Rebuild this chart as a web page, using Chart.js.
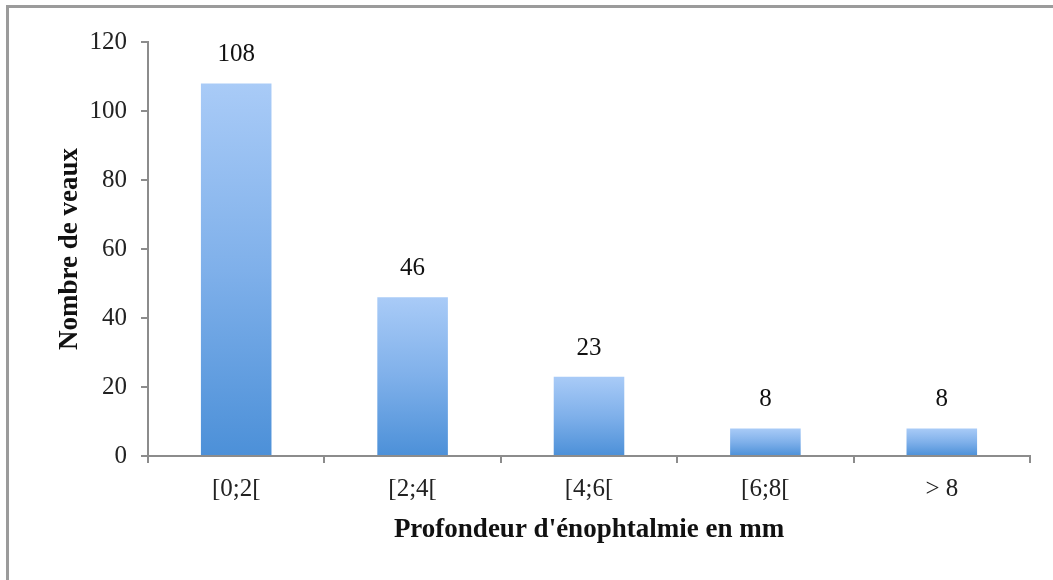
<!DOCTYPE html>
<html>
<head>
<meta charset="utf-8">
<script src="https://cdn.jsdelivr.net/npm/chart.js@4/dist/chart.umd.min.js"></script>
<style>
  html, body { margin: 0; padding: 0; background: #fff; }
  #wrap { position: relative; width: 1053px; height: 580px; }
  #frame { position: absolute; left: 6px; top: 5px; right: 0; bottom: 0;
           border-top: 3px solid #9b9b9b; border-left: 3px solid #9b9b9b; pointer-events: none; }
  canvas { position: absolute; left: 0; top: 0; }
</style>
</head>
<body>
<div id="wrap">
  <canvas id="c" width="1053" height="580"></canvas>
  <div id="frame"></div>
</div>
<script>
const categories = ['[0;2[', '[2;4[', '[4;6[', '[6;8[', '> 8'];
const values = [108, 46, 23, 8, 8];
const yTicks = [0, 20, 40, 60, 80, 100, 120];
const xTitle = "Profondeur d'énophtalmie en mm";
const yTitle = 'Nombre de veaux';

const FONT = "'Liberation Serif', 'Times New Roman', serif";

function barGradient(context) {
  const chart = context.chart;
  const y = chart.scales && chart.scales.y;
  if (!y || context.dataIndex === undefined || !chart.chartArea) return '#7aaee8';
  const v = context.dataset.data[context.dataIndex];
  const top = y.getPixelForValue(v);
  const bottom = y.getPixelForValue(0);
  if (!isFinite(top) || !isFinite(bottom) || top === bottom) return '#7aaee8';
  const g = chart.ctx.createLinearGradient(0, top, 0, bottom);
  g.addColorStop(0, '#a9cbf7');
  g.addColorStop(0.5, '#7fb0ea');
  g.addColorStop(1, '#4c90d8');
  return g;
}

const valueLabels = {
  id: 'valueLabels',
  afterDatasetsDraw(chart) {
    const ctx = chart.ctx;
    const meta = chart.getDatasetMeta(0);
    ctx.save();
    ctx.font = '25px ' + FONT;
    ctx.fillStyle = '#111';
    ctx.textAlign = 'center';
    ctx.textBaseline = 'alphabetic';
    meta.data.forEach((bar, i) => {
      ctx.fillText(String(values[i]), bar.x, bar.y - 22);
    });
    ctx.restore();
  }
};

new Chart(document.getElementById('c'), {
  type: 'bar',
  data: {
    labels: categories,
    datasets: [{
      data: values,
      backgroundColor: barGradient,
      borderWidth: 0,
      barPercentage: 0.4,
      categoryPercentage: 1.0
    }]
  },
  options: {
    responsive: false,
    animation: false,
    devicePixelRatio: 1,
    layout: { padding: { top: 42, right: 23, bottom: 0, left: 0 } },
    plugins: { legend: { display: false }, tooltip: { enabled: false } },
    scales: {
      x: {
        offset: true,
        grid: { display: true, drawOnChartArea: false, offset: true, tickLength: 7, color: '#8c8c8c', lineWidth: 2 },
        border: { display: true, color: '#8c8c8c', width: 2 },
        ticks: { color: '#222', font: { family: FONT, size: 25 }, padding: 11 },
        title: { display: true, text: xTitle, color: '#111',
                 font: { family: FONT, size: 27, weight: 'bold' }, padding: { top: 0, bottom: 34 } },
        afterFit(scale) { scale.height = 124; }
      },
      y: {
        min: 0, max: 120,
        afterBuildTicks(scale) { scale.ticks = yTicks.map(v => ({ value: v })); },
        grid: { display: true, drawOnChartArea: false, tickLength: 7, color: '#8c8c8c', lineWidth: 2 },
        border: { display: true, color: '#8c8c8c', width: 2 },
        ticks: { color: '#222', font: { family: FONT, size: 25 }, padding: 14 },
        title: { display: true, text: yTitle, color: '#111',
                 font: { family: FONT, size: 27, weight: 'bold' }, padding: { top: 54, bottom: 0 } },
        afterFit(scale) { scale.width = 148; }
      }
    }
  },
  plugins: [valueLabels]
});
</script>
</body>
</html>
